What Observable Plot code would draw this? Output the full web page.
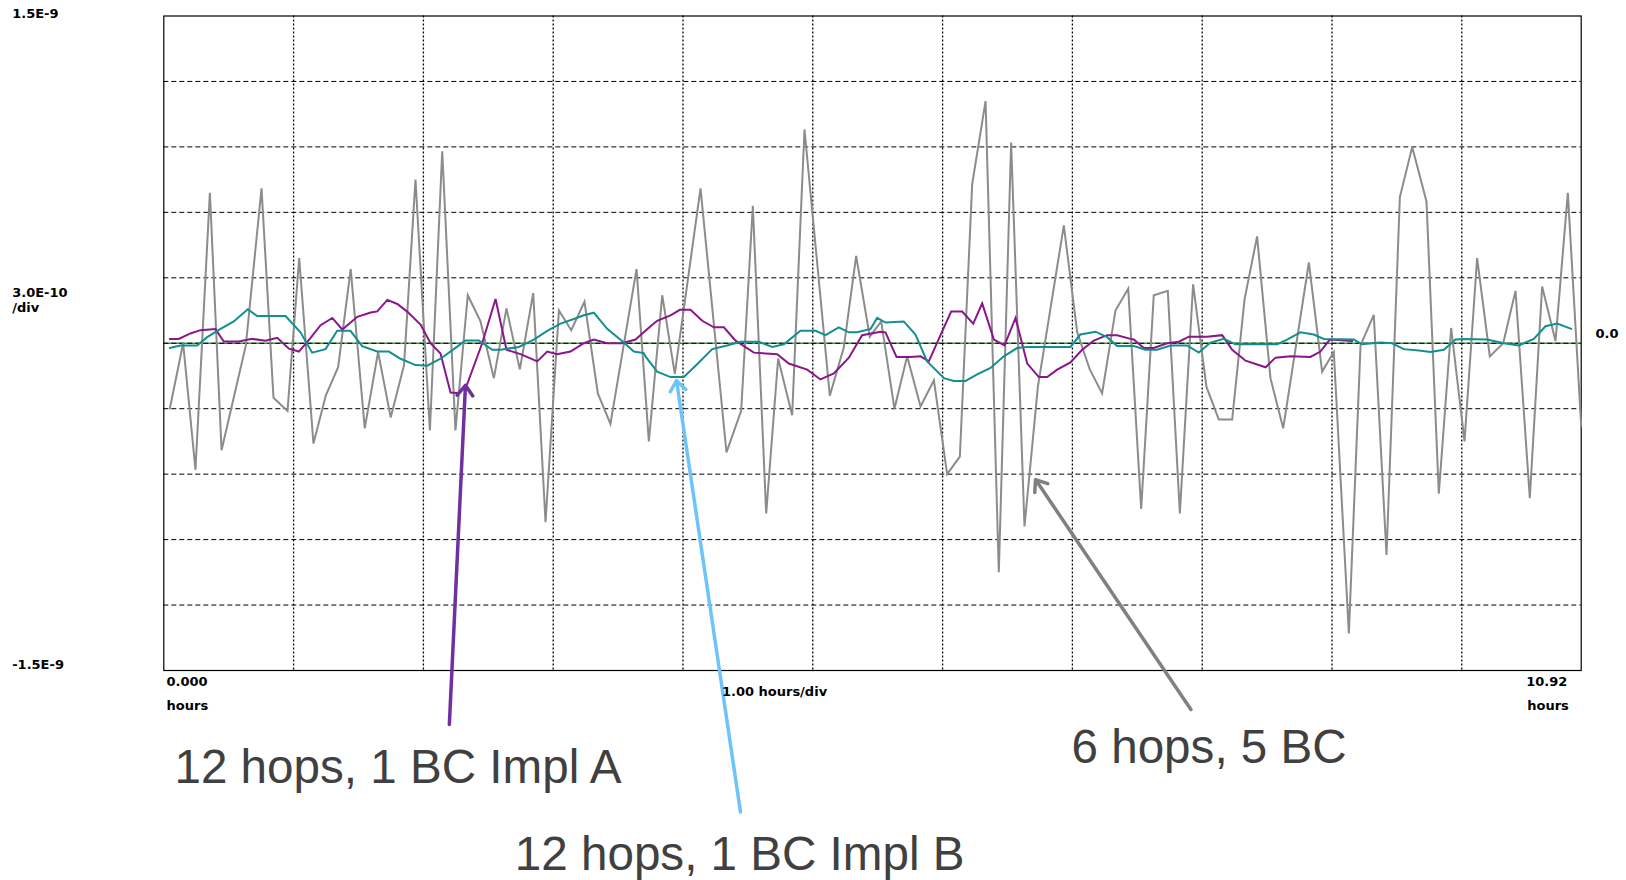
<!DOCTYPE html>
<html><head><meta charset="utf-8">
<script src="https://cdn.jsdelivr.net/npm/d3@7"></script>
<script src="https://cdn.jsdelivr.net/npm/@observablehq/plot@0.6"></script>
<style>html,body{margin:0;padding:0;background:#fff;} svg{display:block}</style>
</head><body><div id="chart"></div>
<script>
// Values: [hours, value in units of 1E-10]
const hops6BC5 = [[0.046,-3.0],[0.149,0],[0.244,-5.8],[0.355,6.9],[0.445,-4.9],[0.632,-0.1],[0.753,7.1],[0.845,-2.5],[0.953,-3.1],[1.043,3.9],[1.153,-4.6],[1.248,-2.4],[1.343,-1.1],[1.440,3.4],[1.548,-3.9],[1.651,-0.4],[1.748,-3.4],[1.851,-1.0],[1.939,7.5],[2.050,-4.0],[2.145,8.8],[2.247,-4.0],[2.342,2.2],[2.440,1.0],[2.543,-1.6],[2.640,1.6],[2.743,-1.2],[2.846,2.3],[2.941,-8.2],[3.044,1.5],[3.139,0.6],[3.241,1.9],[3.344,-2.3],[3.441,-3.7],[3.642,3.4],[3.737,-4.5],[3.840,2.2],[3.937,-1.4],[4.135,7.1],[4.335,-5.0],[4.448,-3.1],[4.538,6.3],[4.641,-7.8],[4.733,-0.7],[4.841,-3.3],[4.936,9.8],[5.131,-2.4],[5.239,-0.2],[5.334,4.0],[5.439,0.3],[5.527,1.0],[5.629,-3.0],[5.727,-0.6],[5.830,-2.9],[5.933,-1.7],[6.035,-6.0],[6.133,-5.2],[6.228,7.3],[6.331,11.1],[6.433,-10.5],[6.528,9.2],[6.631,-8.4],[6.734,-2.0],[6.934,5.4],[7.037,0.5],[7.134,-1.2],[7.229,-2.3],[7.332,1.5],[7.430,2.5],[7.530,-7.6],[7.627,2.2],[7.735,2.4],[7.828,-7.8],[7.930,2.7],[8.033,-2.0],[8.128,-3.5],[8.231,-3.5],[8.326,2.0],[8.423,4.9],[8.526,-1.6],[8.624,-3.9],[8.822,3.7],[8.924,-1.3],[9.014,-0.4],[9.130,-13.3],[9.220,-0.1],[9.322,1.3],[9.420,-9.7],[9.523,6.7],[9.618,9.0],[9.728,6.5],[9.823,-6.9],[9.918,0.7],[10.021,-4.5],[10.118,3.9],[10.216,-0.6],[10.319,0.0],[10.414,2.4],[10.524,-7.1],[10.619,2.6],[10.722,0.1],[10.817,6.9],[10.920,-3.8]];

const hops12ImplA = [[0.046,0.2],[0.115,0.2],[0.205,0.45],[0.282,0.6],[0.398,0.65],[0.462,0.08],[0.578,0.08],[0.681,0.2],[0.784,0.12],[0.874,0.25],[0.964,-0.25],[1.041,-0.38],[1.131,0.25],[1.208,0.83],[1.298,1.16],[1.375,0.63],[1.491,1.21],[1.594,1.41],[1.645,1.46],[1.722,1.99],[1.799,1.8],[1.875,1.45],[1.978,0.86],[2.055,0],[2.132,-0.47],[2.209,-2.26],[2.273,-2.29],[2.337,-1.88],[2.453,0.0],[2.556,2.03],[2.640,-0.30],[2.748,-0.50],[2.877,-0.83],[2.954,-0.38],[3.031,-0.50],[3.133,-0.38],[3.236,0],[3.313,0.17],[3.416,0],[3.531,0],[3.634,0.17],[3.750,0.78],[3.801,1.03],[3.904,1.28],[3.976,1.53],[4.058,1.53],[4.148,1.03],[4.238,0.73],[4.315,0.73],[4.405,0.12],[4.546,-0.43],[4.726,-0.50],[4.815,-0.93],[4.957,-1.21],[5.059,-1.66],[5.162,-1.38],[5.278,-0.66],[5.380,0.37],[5.522,0.53],[5.560,0.50],[5.645,-0.63],[5.753,-0.63],[5.830,-0.60],[5.894,-0.83],[5.984,0.37],[6.066,1.45],[6.151,1.45],[6.236,0.90],[6.305,1.83],[6.395,0.17],[6.477,-0.10],[6.562,1.16],[6.652,-0.93],[6.742,-1.55],[6.806,-1.55],[6.883,-1.21],[6.985,-0.88],[7.075,-0.30],[7.165,0.12],[7.268,0.37],[7.345,0.37],[7.448,0.20],[7.473,0.17],[7.550,-0.22],[7.627,-0.22],[7.730,0],[7.820,0.07],[7.897,0.30],[8.038,0.30],[8.154,0.37],[8.231,-0.30],[8.334,-0.80],[8.488,-1.10],[8.565,-0.66],[8.680,-0.60],[8.834,-0.63],[8.911,-0.38],[8.983,0.17],[9.155,0.10]];

const hops12ImplB = [[0.046,-0.22],[0.128,-0.10],[0.257,-0.10],[0.334,0.28],[0.424,0.61],[0.539,1.0],[0.647,1.56],[0.719,1.25],[0.938,1.25],[1.053,0.50],[1.143,-0.43],[1.246,-0.27],[1.336,0.57],[1.438,0.57],[1.528,-0.13],[1.644,-0.38],[1.734,-0.38],[1.824,-0.71],[1.939,-1.0],[2.029,-1.03],[2.132,-0.71],[2.234,-0.27],[2.324,0.13],[2.427,0.13],[2.530,-0.30],[2.594,-0.30],[2.735,-0.17],[2.851,0.17],[2.954,0.57],[3.056,0.90],[3.159,1.11],[3.236,1.28],[3.313,1.40],[3.416,0.66],[3.544,0.03],[3.621,-0.38],[3.698,-0.45],[3.711,-0.60],[3.801,-1.30],[3.904,-1.55],[4.007,-1.55],[4.109,-0.96],[4.225,-0.27],[4.340,-0.10],[4.443,0.07],[4.584,0.07],[4.687,-0.17],[4.777,-0.05],[4.905,0.57],[5.021,0.57],[5.098,0.37],[5.200,0.73],[5.278,0.50],[5.342,0.50],[5.445,0.66],[5.496,1.16],[5.560,0.95],[5.701,1.0],[5.791,0.40],[5.881,-0.83],[6.010,-1.60],[6.087,-1.73],[6.177,-1.73],[6.266,-1.43],[6.369,-1.13],[6.472,-0.60],[6.574,-0.22],[6.652,-0.17],[6.985,-0.17],[7.062,0.40],[7.178,0.53],[7.268,0.28],[7.345,-0.13],[7.473,-0.13],[7.563,-0.30],[7.653,-0.30],[7.756,-0.10],[7.884,-0.10],[7.974,-0.43],[8.064,0.03],[8.167,0.20],[8.257,-0.05],[8.578,-0.05],[8.654,0.17],[8.757,0.50],[8.860,0.40],[8.937,0.20],[9.168,0.17],[9.232,-0.05],[9.374,0.03],[9.464,0],[9.553,-0.27],[9.669,-0.33],[9.759,-0.40],[9.862,-0.30],[9.952,0.17],[10.016,0.20],[10.195,0.17],[10.324,0],[10.439,-0.10],[10.555,0.20],[10.645,0.78],[10.735,0.90],[10.843,0.66]];

const seriesNames = ["6 hops, 5 BC", "12 hops, 1 BC Impl A", "12 hops, 1 BC Impl B"];
const seriesColors = ["#8c8c8c", "#8b168b", "#138f8f"];
const yGridE10 = [-12, -9, -6, -3, 0, 3, 6, 9, 12];
const xGridHours = [1, 2, 3, 4, 5, 6, 7, 8, 9, 10];
const xDomainHours = [0, 10.92];
const yDomain = [-1.5e-9, 1.5e-9];

const E10 = 1e-10;
const rows = (pairs, s) => pairs.map(([t, v]) => ({t, v: v * E10, s}));
const grayRows = rows(hops6BC5, seriesNames[0]);
const purpleRows = rows(hops12ImplA, seriesNames[1]);
const tealRows = rows(hops12ImplB, seriesNames[2]);

// annotation arrows (hours, value ×1E-10)
const arrows = [
  {x1: 2.200, y1: -17.47, x2: 2.324, y2: -1.93, c: "#7030a0"},
  {x1: 4.443, y1: -21.49, x2: 3.950, y2: -1.71, c: "#6ec4f8"},
  {x1: 7.913, y1: -16.79, x2: 6.716, y2: -6.25, c: "#808080"}
].map(d => ({...d, y1: d.y1 * E10, y2: d.y2 * E10}));

const bigLabels = [
  {t: 0.082, v: -20.15, text: "12 hops, 1 BC Impl A"},
  {t: 2.704, v: -24.15, text: "12 hops, 1 BC Impl B"},
  {t: 6.993, v: -19.25, text: "6 hops, 5 BC"}
].map(d => ({...d, v: d.v * E10}));

const smallLabels = [
  {t: -1.168, v: 14.93, text: "1.5E-9"},
  {t: -1.168, v: 2.10, text: "3.0E-10"},
  {t: -1.168, v: 1.45, text: "/div"},
  {t: -1.168, v: -14.93, text: "-1.5E-9"},
  {t: 0.021, v: -15.69, text: "0.000"},
  {t: 0.021, v: -16.79, text: "hours"},
  {t: 4.30, v: -16.19, text: "1.00 hours/div"},
  {t: 10.496, v: -15.69, text: "10.92"},
  {t: 10.504, v: -16.79, text: "hours"},
  {t: 11.03, v: 0.26, text: "0.0"}
].map(d => ({...d, v: d.v * E10}));

const lineOpts = (c) => ({x: "t", y: "v", stroke: c, strokeWidth: 2, strokeLinejoin: "miter", strokeMiterlimit: 4});

const chart = Plot.plot({
  width: 1626,
  height: 880,
  marginLeft: 163.3,
  marginRight: 45.3,
  marginTop: 15.5,
  marginBottom: 210,
  x: {domain: xDomainHours, axis: null},
  y: {domain: yDomain, axis: null},
  style: {background: "#fff", overflow: "visible"},
  marks: [
    Plot.ruleY([0], {stroke: "#3f9a3f", strokeWidth: 1.3}),
    Plot.ruleY(yGridE10.map(v => v * E10), {stroke: "#000", strokeWidth: 1, strokeDasharray: "5,3"}),
    Plot.ruleX(xGridHours, {stroke: "#000", strokeWidth: 1.3, strokeDasharray: "2,2"}),
    Plot.frame({stroke: "#000", strokeWidth: 1.2}),
    Plot.line(grayRows, lineOpts(seriesColors[0])),
    Plot.line(purpleRows, lineOpts(seriesColors[1])),
    Plot.line(tealRows, lineOpts(seriesColors[2])),
    Plot.arrow(arrows, {x1: "x1", y1: "y1", x2: "x2", y2: "y2", stroke: "c", strokeWidth: 3.5, headLength: 5.5, headAngle: 75}),
    Plot.text(bigLabels, {x: "t", y: "v", text: "text", textAnchor: "start", lineAnchor: "bottom", fontSize: 47.6, fill: "#404040", fontFamily: "Liberation Sans, Arial, sans-serif"}),
    Plot.text(smallLabels, {x: "t", y: "v", text: "text", textAnchor: "start", lineAnchor: "bottom", fontSize: 13, fontWeight: "bold", fill: "#000", fontFamily: "DejaVu Sans, sans-serif"})
  ]
});
document.getElementById("chart").appendChild(chart);
</script>
</body></html>
